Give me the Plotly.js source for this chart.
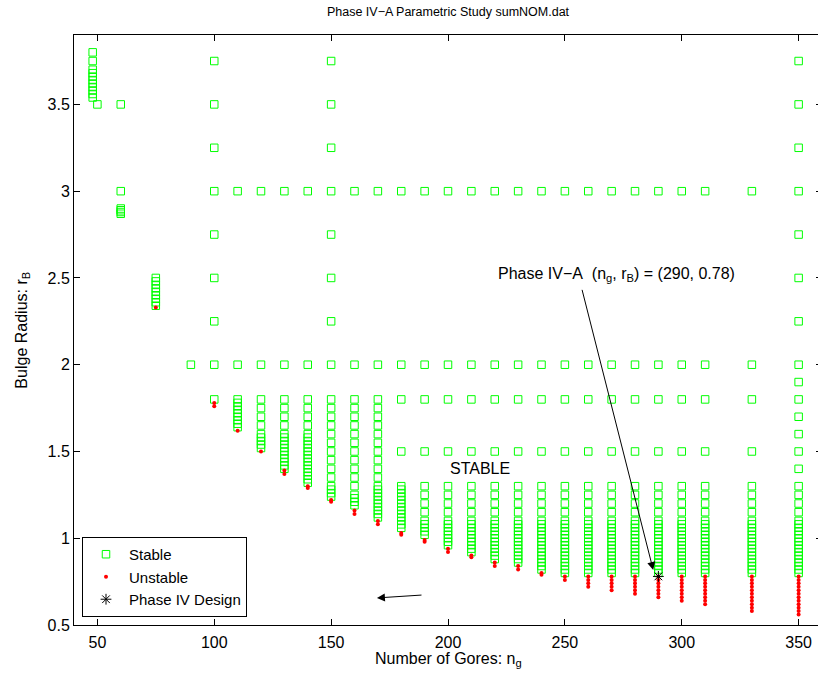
<!DOCTYPE html>
<html>
<head>
<meta charset="utf-8">
<script src="https://cdn.plot.ly/plotly-3.0.1.min.js"></script>
<style>
html,body{margin:0;padding:0;overflow:hidden;background:#fff;}
#plot{width:822px;height:677px;}
</style>
</head>
<body>
<div id="plot"></div>
<script>
// Number of gores (x) for each column of the study
const gores = [48, 50, 60, 75, 90, 100, 110, 120, 130, 140, 150, 160, 170, 180, 190, 200, 210, 220, 230, 240, 250, 260, 270, 280, 290, 300, 310, 330, 350];

// Bulge radius values judged stable, per column
const stableR = [
  [3.80,3.75,3.70,3.68,3.66,3.64,3.62,3.60,3.58,3.56,3.54],
  [3.50],
  [3.50,3.00,2.90,2.89,2.88,2.87],
  [2.50,2.48,2.46,2.44,2.42,2.40,2.38,2.36,2.34],
  [2.00],
  [3.75,3.50,3.25,3.00,2.75,2.50,2.25,2.00,1.80],
  [3.00,2.00,1.80,1.78,1.76,1.74,1.72,1.70,1.68,1.66,1.64],
  [3.00,2.00,1.80,1.75,1.70,1.65,1.60,1.58,1.56,1.54,1.52],
  [3.00,2.00,1.80,1.75,1.70,1.65,1.60,1.58,1.56,1.54,1.52,1.50,1.48,1.46,1.44,1.42,1.40],
  [3.00,2.00,1.80,1.75,1.70,1.65,1.60,1.58,1.56,1.54,1.52,1.50,1.48,1.46,1.44,1.42,1.40,1.38,1.36,1.34,1.32],
  [3.75,3.50,3.25,3.00,2.75,2.50,2.25,2.00,1.80,1.75,1.70,1.65,1.60,1.55,1.50,1.45,1.40,1.35,1.30,1.28,1.26,1.24],
  [3.00,2.00,1.80,1.75,1.70,1.65,1.60,1.55,1.50,1.45,1.40,1.35,1.30,1.25,1.23,1.21,1.19],
  [3.00,2.00,1.80,1.75,1.70,1.65,1.60,1.55,1.50,1.45,1.40,1.35,1.30,1.28,1.26,1.24,1.22,1.20,1.18,1.16,1.14,1.12],
  [3.00,2.00,1.80,1.50,1.30,1.28,1.26,1.24,1.22,1.20,1.18,1.16,1.14,1.12,1.10,1.08,1.06],
  [3.00,2.00,1.80,1.50,1.30,1.25,1.20,1.15,1.10,1.08,1.06,1.04,1.02],
  [3.00,2.00,1.80,1.50,1.30,1.25,1.20,1.15,1.10,1.08,1.06,1.04,1.02,1.00,0.98,0.96],
  [3.00,2.00,1.80,1.50,1.30,1.25,1.20,1.15,1.10,1.08,1.06,1.04,1.02,1.00,0.98,0.96,0.94,0.92],
  [3.00,2.00,1.80,1.50,1.30,1.25,1.20,1.15,1.10,1.08,1.06,1.04,1.02,1.00,0.98,0.96,0.94,0.92,0.90,0.88],
  [3.00,2.00,1.80,1.50,1.30,1.25,1.20,1.15,1.10,1.08,1.06,1.04,1.02,1.00,0.98,0.96,0.94,0.92,0.90,0.88,0.86],
  [3.00,2.00,1.80,1.50,1.30,1.25,1.20,1.15,1.10,1.08,1.06,1.04,1.02,1.00,0.98,0.96,0.94,0.92,0.90,0.88,0.86,0.84,0.82],
  [3.00,2.00,1.80,1.50,1.30,1.25,1.20,1.15,1.10,1.08,1.06,1.04,1.02,1.00,0.98,0.96,0.94,0.92,0.90,0.88,0.86,0.84,0.82,0.80],
  [3.00,2.00,1.80,1.50,1.30,1.25,1.20,1.15,1.10,1.08,1.06,1.04,1.02,1.00,0.98,0.96,0.94,0.92,0.90,0.88,0.86,0.84,0.82,0.80],
  [3.00,2.00,1.80,1.50,1.30,1.25,1.20,1.15,1.10,1.08,1.06,1.04,1.02,1.00,0.98,0.96,0.94,0.92,0.90,0.88,0.86,0.84,0.82,0.80],
  [3.00,2.00,1.80,1.50,1.30,1.25,1.20,1.15,1.10,1.08,1.06,1.04,1.02,1.00,0.98,0.96,0.94,0.92,0.90,0.88,0.86,0.84,0.82,0.80],
  [3.00,2.00,1.80,1.50,1.30,1.25,1.20,1.15,1.10,1.08,1.06,1.04,1.02,1.00,0.98,0.96,0.94,0.92,0.90,0.88,0.86,0.84,0.82,0.80],
  [3.00,2.00,1.80,1.50,1.30,1.25,1.20,1.15,1.10,1.08,1.06,1.04,1.02,1.00,0.98,0.96,0.94,0.92,0.90,0.88,0.86,0.84,0.82,0.80],
  [3.00,2.00,1.80,1.50,1.30,1.25,1.20,1.15,1.10,1.08,1.06,1.04,1.02,1.00,0.98,0.96,0.94,0.92,0.90,0.88,0.86,0.84,0.82,0.80],
  [3.00,2.00,1.80,1.50,1.30,1.25,1.20,1.15,1.10,1.08,1.06,1.04,1.02,1.00,0.98,0.96,0.94,0.92,0.90,0.88,0.86,0.84,0.82,0.80],
  [3.75,3.50,3.25,3.00,2.75,2.50,2.25,2.00,1.90,1.80,1.70,1.60,1.50,1.40,1.30,1.25,1.20,1.15,1.10,1.08,1.06,1.04,1.02,1.00,0.98,0.96,0.94,0.92,0.90,0.88,0.86,0.84,0.82,0.80]
];

// Bulge radius values judged unstable, per column
const unstableR = [
  [], [], [], [2.33], [],
  [1.78,1.76],
  [1.62],
  [1.50],
  [1.39,1.37],
  [1.30,1.29],
  [1.22,1.21],
  [1.16,1.14],
  [1.10,1.08],
  [1.03,1.02],
  [0.99,0.98],
  [0.94,0.92],
  [0.90,0.89],
  [0.86,0.84],
  [0.84,0.82],
  [0.80,0.79],
  [0.78,0.76],
  [0.78,0.76,0.74,0.72],
  [0.78,0.76,0.74,0.72,0.70],
  [0.78,0.76,0.74,0.72,0.70,0.68],
  [0.78,0.76,0.74,0.72,0.70,0.68,0.66],
  [0.78,0.76,0.74,0.72,0.70,0.68,0.66,0.64],
  [0.78,0.76,0.74,0.72,0.70,0.68,0.66,0.64,0.62],
  [0.78,0.76,0.74,0.72,0.70,0.68,0.66,0.64,0.62,0.60,0.58],
  [0.78,0.76,0.74,0.72,0.70,0.68,0.66,0.64,0.62,0.60,0.58,0.56]
];

// Phase IV design point
const designN = [290];
const designR = [0.78];

const xTicks = [50, 100, 150, 200, 250, 300, 350];
const yTicks = [0.5, 1, 1.5, 2, 2.5, 3, 3.5];
const yTickText = ['0.5', '1', '1.5', '2', '2.5', '3', '3.5'];

function flatten(lists) {
  const xs = [], ys = [];
  lists.forEach((vals, i) => vals.forEach(v => { xs.push(gores[i]); ys.push(v); }));
  return [xs, ys];
}
const [sx, sy] = flatten(stableR);
const [ux, uy] = flatten(unstableR);

const FONT = 'Liberation Sans, Arial, Helvetica, sans-serif';

const traces = [
  {x: sx, y: sy, type: 'scatter', mode: 'markers', name: 'Stable',
   marker: {symbol: 'square-open', size: 7.5, color: '#00ff00', line: {width: 1, color: '#00ff00'}}},
  {x: ux, y: uy, type: 'scatter', mode: 'markers', name: 'Unstable',
   marker: {symbol: 'circle', size: 4, color: '#ff0000', line: {width: 0}}},
  {x: designN, y: designR, type: 'scatter', mode: 'markers', name: 'Phase IV Design',
   marker: {symbol: 'asterisk-open', size: 9, color: '#000000', line: {width: 1, color: '#000000'}}}
];

const layout = {
  width: 822, height: 677,
  margin: {l: 74, r: 0, t: 35, b: 52},
  paper_bgcolor: '#fff', plot_bgcolor: '#fff',
  font: {family: FONT, size: 16, color: '#000'},
  showlegend: true,
  title: {text: 'Phase IV\u2212A Parametric Study sumNOM.dat', font: {family: FONT, size: 12.5, color: '#000'},
          x: 0.5, xref: 'paper', y: 1 - 12/677, yref: 'container', yanchor: 'middle'},
  xaxis: {range: [40, 360], tickvals: xTicks, ticks: 'inside', ticklen: 6, tickcolor: '#000',
          showline: true, linecolor: '#000', linewidth: 1, mirror: 'ticks', showgrid: false, zeroline: false,
          tickfont: {size: 16, family: FONT}, ticklabelstandoff: 3},
  yaxis: {range: [0.5, 3.9], tickvals: yTicks, ticktext: yTickText, ticks: 'inside', ticklen: 6, tickcolor: '#000',
          showline: true, linecolor: '#000', linewidth: 1, mirror: 'ticks', showgrid: false, zeroline: false,
          tickfont: {size: 16, family: FONT}},
  legend: {x: 0.0107, y: 0.0136, xanchor: 'left', yanchor: 'bottom', bgcolor: '#fff',
           bordercolor: '#000', borderwidth: 1, font: {size: 15, family: FONT}, itemwidth: 36},
  annotations: [
    {text: 'Number of Gores: n<sub>g</sub>', xref: 'paper', yref: 'paper', x: 0.5, y: -0.058,
     xanchor: 'center', yanchor: 'middle', showarrow: false, font: {size: 16}},
    {text: 'Bulge Radius: r<sub>B</sub>', xref: 'paper', yref: 'paper', x: -0.07, y: 0.5,
     xanchor: 'center', yanchor: 'middle', textangle: -90, showarrow: false, font: {size: 16}},
    {text: 'STABLE', xref: 'x', yref: 'y', x: 213.5, y: 1.40, showarrow: false, font: {size: 16}},
    {text: 'Phase IV\u2212A\u00a0\u00a0(n<sub>g</sub>, r<sub>B</sub>) = (290, 0.78)', xref: 'x', yref: 'y',
     x: 272, y: 2.52, showarrow: false, font: {size: 16}},
    {text: '', xref: 'x', yref: 'y', x: 287.8, y: 0.817, axref: 'x', ayref: 'y', ax: 257.2, ay: 2.44,
     showarrow: true, arrowhead: 2, arrowsize: 1.6, arrowwidth: 1, arrowcolor: '#000'},
    {text: '', xref: 'x', yref: 'y', x: 169.6, y: 0.656, axref: 'x', ayref: 'y', ax: 189.3, ay: 0.673,
     showarrow: true, arrowhead: 2, arrowsize: 1.6, arrowwidth: 1, arrowcolor: '#000'}
  ]
};

Plotly.newPlot('plot', traces, layout, {displayModeBar: false, staticPlot: true});
</script>
</body>
</html>
